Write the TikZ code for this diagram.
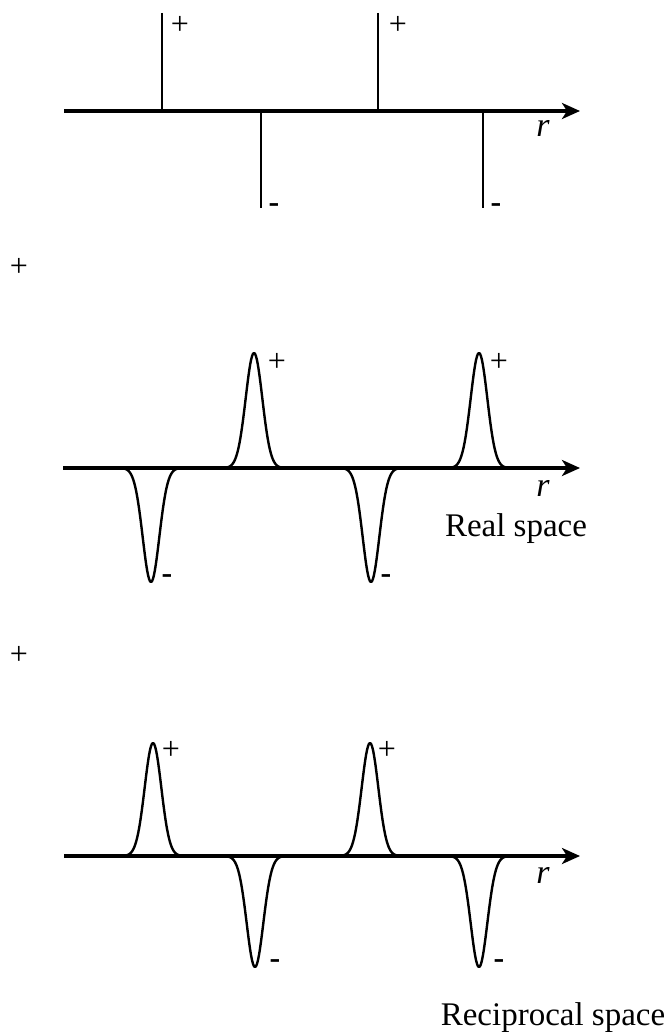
\documentclass[tikz,border=0pt]{standalone}
\usepackage{fontspec}
\setmainfont{Liberation Serif}
\usetikzlibrary{arrows.meta}

\begin{document}
\begin{tikzpicture}[
    x=0.5pt, y=-0.5pt,
    axis/.style={-{Stealth[length=9pt, width=8pt, inset=2.5pt]}, line width=1.6pt},
    spike/.style={line width=1.2pt},
    pulse/.style={line width=1.2pt, line join=round},
    sign/.style={font=\fontsize{16}{18}\selectfont, inner sep=0pt},
    minus/.style={font=\fontsize{16}{18}\selectfont\bfseries, inner sep=0pt},
    varlabel/.style={font=\fontsize{17}{20}\selectfont\itshape, inner sep=0pt},
    caption/.style={font=\fontsize{16.5}{20}\selectfont, inner sep=0pt}
]
    \useasboundingbox (0,0) rectangle (664,1032);

    % top: point charges
    \coordinate (axisAs) at (64,111);
    \coordinate (axisAe) at (580,111);
    \draw[axis] (axisAs) -- (axisAe);
    \foreach \px/\tip in {162/13, 378/13, 261/208, 483/208} {
        \coordinate (tip\px) at (\px,\tip);
        \coordinate (foot\px) at (\px,111);
        \draw[spike] (tip\px) -- (foot\px);
    }
    \node[sign] (plusA1) at (180,25) {+};
    \node[sign] (plusA2) at (398,25) {+};
    \node[minus] (minusA1) at (274,208) {-};
    \node[minus] (minusA2) at (496,208) {-};
    \node[varlabel] (rA) at (543,128) {r};

    \node[sign] (plusL1) at (19,267) {+};

    % middle: real space
    \coordinate (axisBs) at (63,468);
    \coordinate (axisBe) at (580,468);
    \draw[axis] (axisBs) -- (axisBe);
    \foreach \c/\s in {254/115, 479/115, 151/-114, 371/-114}
        \draw[pulse] plot[domain=-28:28, samples=61, smooth] ({\c+\x}, {468-(\s)*exp(-(\x*\x)/138)});
    \node[sign] (plusB1) at (277,362) {+};
    \node[sign] (plusB2) at (499,362) {+};
    \node[minus] (minusB1) at (167,579) {-};
    \node[minus] (minusB2) at (386,579) {-};
    \node[varlabel] (rB) at (543,488) {r};
    \node[caption] (real) at (516,529) {Real space};

    \node[sign] (plusL2) at (19,655) {+};

    % bottom: reciprocal space
    \coordinate (axisCs) at (64,856);
    \coordinate (axisCe) at (580,856);
    \draw[axis] (axisCs) -- (axisCe);
    \foreach \c/\s in {153/113, 370/113, 255/-111, 479/-111}
        \draw[pulse] plot[domain=-28:28, samples=61, smooth] ({\c+\x}, {856-(\s)*exp(-(\x*\x)/138)});
    \node[sign] (plusC1) at (171,750) {+};
    \node[sign] (plusC2) at (387,750) {+};
    \node[minus] (minusC1) at (275,964) {-};
    \node[minus] (minusC2) at (499,964) {-};
    \node[varlabel] (rC) at (543,875) {r};
    \node[caption] (recip) at (553,1018) {Reciprocal space};
\end{tikzpicture}
\end{document}
